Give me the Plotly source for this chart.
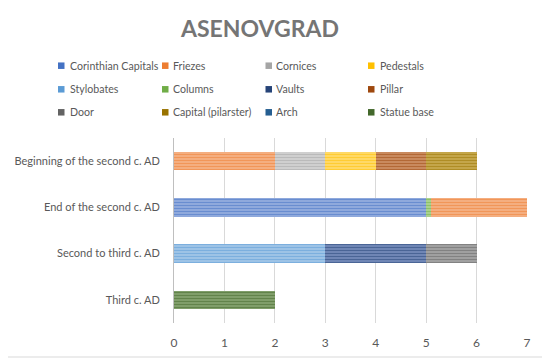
import plotly.graph_objects as go

categories = ["Beginning of the second c. AD", "End of the second c. AD",
              "Second to third c. AD", "Third c. AD"]

# series name -> values per category (None = absent)
series_names = ["Corinthian Capitals", "Columns", "Friezes", "Cornices", "Pedestals",
                "Pillar", "Capital (pilarster)", "Stylobates", "Vaults", "Door",
                "Arch", "Statue base"]
corinthian_capitals = [None, 5, None, None]
columns = [None, 0.1, None, None]
friezes = [2, 1.9, None, None]
cornices = [1, None, None, None]
pedestals = [1, None, None, None]
pillar = [1, None, None, None]
capital_pilarster = [1, None, None, None]
stylobates = [None, None, 3, None]
vaults = [None, None, 2, None]
door = [None, None, 1, None]
arch = [None, None, None, None]
statue_base = [None, None, None, 2]

legend_rows = [["Corinthian Capitals", "Friezes", "Cornices", "Pedestals"],
               ["Stylobates", "Columns", "Vaults", "Pillar"],
               ["Door", "Capital (pilarster)", "Arch", "Statue base"]]

values = [corinthian_capitals, columns, friezes, cornices, pedestals, pillar,
          capital_pilarster, stylobates, vaults, door, arch, statue_base]

base_colors = {
    "Corinthian Capitals": "#4472C4", "Friezes": "#ED7D31", "Cornices": "#A5A5A5",
    "Pedestals": "#FFC000", "Stylobates": "#5B9BD5", "Columns": "#70AD47",
    "Vaults": "#264478", "Pillar": "#9E480E", "Door": "#636363",
    "Capital (pilarster)": "#997300", "Arch": "#255E91", "Statue base": "#43682B",
}
light_colors = {
    "Corinthian Capitals": "#8FA9DC", "Friezes": "#F4AE80", "Cornices": "#CFCFCF",
    "Pedestals": "#FFD966", "Stylobates": "#9DC3E6", "Columns": "#A9D18E",
    "Vaults": "#6F86B5", "Pillar": "#C98A5E", "Door": "#A0A0A0",
    "Capital (pilarster)": "#C4A64A", "Arch": "#6A93BC", "Statue base": "#809E6A",
}

font_family = "Lato, 'Open Sans', sans-serif"
# page body has an 8px margin: lay out in div coordinates
W, H = 542, 352
L, R, T, B = 166, 23, 130, 37
pw, ph = W - L - R, H - T - B

def px_x(p):
    return (p - L) / pw

def px_y(p):
    return (H - B - p) / ph

fig = go.Figure()
for name, vals in zip(series_names, values):
    fig.add_trace(go.Bar(
        name=name, y=categories, x=vals, orientation="h",
        width=0.4, showlegend=False,
        marker=dict(color=light_colors[name], line=dict(width=0),
                    pattern=dict(shape="-", fgcolor=base_colors[name],
                                 size=3, solidity=0.35, fillmode="overlay")),
    ))

# legend: colour squares + labels in a 4x3 grid
sq_x = [50, 154, 257.5, 360]
text_x = [59.5, 163, 266, 369.5]
row_y = [57.7, 81.3, 104.3]
sq = 6.5
shapes = [dict(type="rect", xref="paper", yref="paper",
               x0=px_x(-5), x1=px_x(539), y0=px_y(349), y1=px_y(-5),
               line=dict(color="#D9D9D9", width=1), layer="above")]
annotations = []
for ri, row in enumerate(legend_rows):
    for ci, name in enumerate(row):
        shapes.append(dict(type="rect", xref="paper", yref="paper",
                           x0=px_x(sq_x[ci]), x1=px_x(sq_x[ci] + sq),
                           y0=px_y(row_y[ri] + sq / 2), y1=px_y(row_y[ri] - sq / 2),
                           fillcolor=base_colors[name], line=dict(width=0)))
        annotations.append(dict(text=name, xref="paper", yref="paper",
                                x=px_x(text_x[ci]), y=px_y(row_y[ri]),
                                xanchor="left", yanchor="middle", showarrow=False,
                                font=dict(family=font_family, size=10.6,
                                          color="#595959")))

fig.update_layout(
    width=W, height=H,
    margin=dict(l=L, r=R, t=T, b=B, autoexpand=False),
    barmode="stack",
    paper_bgcolor="white", plot_bgcolor="white",
    font=dict(family=font_family, size=11, color="#595959"),
    title=dict(text="<b>ASENOVGRAD</b>", xref="container", x=252 / W,
               xanchor="center", yref="container",
               y=1 - 21 / H, yanchor="middle",
               font=dict(family=font_family, size=23, color="#757575")),
    showlegend=False,
    xaxis=dict(range=[0, 7], dtick=1, showgrid=True, gridcolor="#D9D9D9",
               gridwidth=1, zeroline=False, showline=False, ticks="",
               automargin=False, ticklabelstandoff=11,
               tickfont=dict(size=12, color="#595959"), fixedrange=True),
    yaxis=dict(categoryorder="array", categoryarray=categories,
               autorange="reversed", showline=True, linecolor="#BFBFBF",
               linewidth=1, ticks="", ticklabelstandoff=11, automargin=False,
               tickfont=dict(size=11, color="#595959"), fixedrange=True),
    shapes=shapes,
    annotations=annotations,
)

fig.write_html("out.html")
